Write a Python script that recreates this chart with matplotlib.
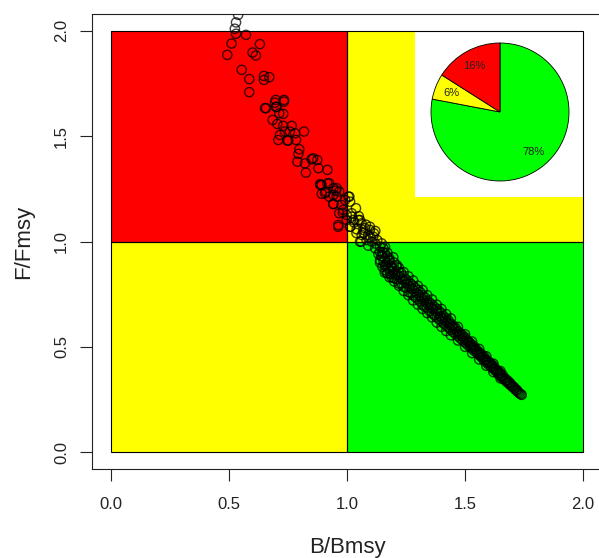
import matplotlib
matplotlib.use("Agg")
import matplotlib.pyplot as plt
from matplotlib.patches import Rectangle

plt.rcParams['font.family'] = ['Liberation Sans', 'DejaVu Sans']

# ---------------- data ----------------
x_ticks = [0.0, 0.5, 1.0, 1.5, 2.0]
y_ticks = [0.0, 0.5, 1.0, 1.5, 2.0]
x_label = "B/Bmsy"
y_label = "F/Fmsy"

# quadrants: (x0, y0, x1, y1, colour)
quadrants = [
    (0.0, 1.0, 1.0, 2.0, "#FF0000"),
    (0.0, 0.0, 1.0, 1.0, "#FFFF00"),
    (1.0, 1.0, 2.0, 2.0, "#FFFF00"),
    (1.0, 0.0, 2.0, 1.0, "#00FF00"),
]

pie_values = [78, 6, 16]
pie_colors = ["#00FF00", "#FFFF00", "#FF0000"]

# scattered upper part
b_upper = [0.539, 0.530, 0.525, 0.530, 0.572, 0.511, 0.631, 0.493, 0.600, 0.614,
           0.554, 0.586, 0.648, 0.671, 0.648, 0.586, 0.698, 0.733, 0.657, 0.702,
           0.653, 0.695, 0.733, 0.699, 0.713, 0.730, 0.685, 0.730, 0.766, 0.737,
           0.716, 0.758, 0.780, 0.818, 0.751, 0.784, 0.798, 0.794, 0.790, 0.822,
           0.850, 0.874, 0.826, 0.879, 0.917, 0.888, 0.917, 0.911, 0.942, 0.925,
           0.956, 0.893, 0.705, 0.709, 0.747, 0.857, 0.886, 0.953, 0.942, 0.967,
           0.963, 0.992, 1.006, 0.984, 0.999, 1.038, 1.020, 1.013, 1.055, 1.069,
           1.097, 1.111, 1.083, 1.140, 1.161]
f_upper = [2.076, 2.040, 2.010, 1.986, 1.981, 1.940, 1.937, 1.886, 1.897, 1.883,
           1.815, 1.771, 1.786, 1.780, 1.767, 1.709, 1.672, 1.672, 1.633, 1.640,
           1.633, 1.659, 1.664, 1.638, 1.609, 1.606, 1.577, 1.549, 1.549, 1.522,
           1.506, 1.522, 1.514, 1.522, 1.479, 1.482, 1.438, 1.416, 1.379, 1.371,
           1.390, 1.387, 1.327, 1.348, 1.340, 1.268, 1.276, 1.237, 1.253, 1.213,
           1.213, 1.226, 1.558, 1.482, 1.479, 1.395, 1.272, 1.241, 1.178, 1.134,
           1.070, 1.197, 1.213, 1.150, 1.102, 1.158, 1.118, 1.070, 1.102, 1.055,
           1.055, 1.023, 1.007, 0.975, 0.975]

# dense cluster around B/Bmsy ~ 1
b_mid = [0.893, 0.925, 0.956, 0.907, 0.942, 0.967, 0.942, 0.977, 1.010, 1.013,
         0.982, 0.999, 0.963, 1.020, 1.027, 1.013, 1.048, 1.062, 1.041, 1.076,
         1.097, 1.062, 1.090, 1.114, 1.055, 1.105, 1.128, 1.147, 1.119, 1.154,
         1.133, 1.171, 1.140, 1.175, 1.196, 1.161, 1.189, 1.211, 1.171, 1.203,
         1.030, 1.050, 1.070, 1.080, 1.100, 1.120, 1.120, 1.090, 1.150, 1.170,
         1.040, 1.060]
f_mid = [1.268, 1.276, 1.253, 1.229, 1.221, 1.237, 1.178, 1.173, 1.213, 1.189,
         1.137, 1.126, 1.078, 1.134, 1.102, 1.070, 1.102, 1.086, 1.058, 1.063,
         1.070, 1.031, 1.031, 1.039, 0.999, 0.999, 1.007, 0.991, 0.968, 0.968,
         0.941, 0.947, 0.912, 0.912, 0.925, 0.884, 0.877, 0.888, 0.849, 0.841,
         1.090, 1.120, 1.040, 1.080, 1.020, 0.990, 1.050, 0.980, 0.950, 0.930,
         1.040, 1.000]

# tight band towards the lower right
b_band = [1.14, 1.14, 1.145, 1.15, 1.15, 1.155, 1.16, 1.16, 1.165, 1.17, 1.17, 1.175,
          1.18, 1.18, 1.185, 1.19, 1.19, 1.195, 1.20, 1.20, 1.205, 1.21, 1.21, 1.215,
          1.22, 1.22, 1.225, 1.23, 1.23, 1.235, 1.24, 1.24, 1.245, 1.25, 1.25, 1.255,
          1.26, 1.26, 1.265, 1.27, 1.27, 1.275, 1.28, 1.28, 1.285, 1.29, 1.29, 1.295,
          1.30, 1.30, 1.305, 1.31, 1.31, 1.315, 1.32, 1.32, 1.325, 1.33, 1.33, 1.335,
          1.34, 1.34, 1.345, 1.35, 1.35, 1.355, 1.36, 1.36, 1.365, 1.37, 1.37, 1.375,
          1.38, 1.38, 1.385, 1.39, 1.39, 1.395, 1.40, 1.40, 1.405, 1.41, 1.41, 1.415,
          1.42, 1.42, 1.425, 1.43, 1.43, 1.435, 1.44, 1.44, 1.445, 1.45, 1.45, 1.455,
          1.46, 1.46, 1.465, 1.47, 1.47, 1.475, 1.48, 1.48, 1.485, 1.49, 1.49, 1.495,
          1.50, 1.50, 1.505, 1.51, 1.51, 1.515, 1.52, 1.52, 1.525, 1.53, 1.53, 1.535,
          1.54, 1.54, 1.545, 1.55, 1.55, 1.555, 1.56, 1.56, 1.565, 1.57, 1.57, 1.575,
          1.58, 1.58, 1.585, 1.59, 1.59, 1.595, 1.60, 1.60, 1.605, 1.61, 1.61, 1.615,
          1.62, 1.62, 1.625, 1.63, 1.63, 1.635, 1.64, 1.64, 1.645, 1.65, 1.65, 1.655,
          1.66, 1.66, 1.665, 1.67, 1.67, 1.675, 1.68, 1.68, 1.685, 1.69, 1.69, 1.695,
          1.70, 1.70, 1.705, 1.71, 1.71, 1.715, 1.72, 1.72, 1.725, 1.73, 1.735, 1.74]
f_band = [0.95, 0.90, 0.93, 0.88, 0.93, 0.905, 0.865, 0.92, 0.89, 0.90, 0.85, 0.875,
          0.91, 0.86, 0.845, 0.88, 0.83, 0.86, 0.87, 0.825, 0.85, 0.88, 0.82, 0.84,
          0.855, 0.80, 0.83, 0.85, 0.80, 0.82, 0.835, 0.785, 0.81, 0.82, 0.78, 0.80,
          0.81, 0.76, 0.785, 0.80, 0.755, 0.775, 0.79, 0.745, 0.765, 0.78, 0.735, 0.755,
          0.77, 0.725, 0.745, 0.76, 0.715, 0.735, 0.745, 0.70, 0.72, 0.735, 0.69, 0.71,
          0.72, 0.685, 0.70, 0.71, 0.67, 0.69, 0.70, 0.66, 0.68, 0.69, 0.65, 0.67,
          0.68, 0.64, 0.66, 0.67, 0.63, 0.645, 0.66, 0.62, 0.635, 0.645, 0.61, 0.625,
          0.635, 0.60, 0.615, 0.625, 0.59, 0.605, 0.61, 0.58, 0.595, 0.60, 0.57, 0.585,
          0.59, 0.56, 0.57, 0.575, 0.55, 0.56, 0.565, 0.54, 0.55, 0.555, 0.53, 0.54,
          0.545, 0.52, 0.53, 0.53, 0.51, 0.52, 0.52, 0.50, 0.505, 0.51, 0.49, 0.495,
          0.50, 0.48, 0.485, 0.485, 0.47, 0.47, 0.475, 0.46, 0.46, 0.465, 0.45, 0.45,
          0.455, 0.435, 0.44, 0.44, 0.425, 0.43, 0.43, 0.415, 0.42, 0.42, 0.405, 0.41,
          0.41, 0.395, 0.395, 0.395, 0.385, 0.385, 0.385, 0.37, 0.375, 0.375, 0.36, 0.36,
          0.365, 0.35, 0.35, 0.35, 0.34, 0.34, 0.34, 0.33, 0.33, 0.33, 0.32, 0.32,
          0.315, 0.31, 0.31, 0.305, 0.30, 0.295, 0.295, 0.29, 0.285, 0.28, 0.275, 0.272]

# points on the outer edges of the band
b_edge = [1.16, 1.16, 1.18, 1.18, 1.20, 1.20, 1.22, 1.22, 1.24, 1.24, 1.26, 1.26,
          1.28, 1.28, 1.30, 1.30, 1.32, 1.32, 1.34, 1.34, 1.36, 1.36, 1.38, 1.38,
          1.40, 1.40, 1.42, 1.42, 1.44, 1.44, 1.47, 1.47, 1.50, 1.50, 1.53, 1.53,
          1.56, 1.56, 1.59, 1.59, 1.62, 1.62, 1.65, 1.65]
f_edge = [0.945, 0.852, 0.92, 0.83, 0.90, 0.81, 0.875, 0.79, 0.855, 0.765, 0.835, 0.745,
          0.815, 0.72, 0.79, 0.70, 0.77, 0.68, 0.745, 0.66, 0.725, 0.64, 0.70, 0.615,
          0.68, 0.595, 0.655, 0.575, 0.635, 0.555, 0.595, 0.53, 0.56, 0.50, 0.525, 0.47,
          0.49, 0.44, 0.455, 0.41, 0.42, 0.38, 0.385, 0.35]

# ---------------- figure ----------------
W, H = 599, 558
fig = plt.figure(figsize=(W / 100, H / 100), dpi=100)
ax = fig.add_axes([92 / W, (H - 469) / H, 510 / W, 455 / H])
ax.set_xlim(-0.08, 2.08)
ax.set_ylim(-0.08, 2.08)

for x0, y0, x1, y1, c in quadrants:
    ax.add_patch(Rectangle((x0, y0), x1 - x0, y1 - y0, facecolor=c,
                           edgecolor="none", zorder=1))
# white background of the inset
ax.add_patch(Rectangle((1.29, 1.21), 0.71, 0.79, facecolor="white",
                       edgecolor="none", zorder=2))
for x0, y0, x1, y1, c in quadrants:
    ax.add_patch(Rectangle((x0, y0), x1 - x0, y1 - y0, facecolor="none",
                           edgecolor="black", linewidth=0.8, zorder=3))

b_all = b_upper + b_mid + b_band + b_edge
f_all = f_upper + f_mid + f_band + f_edge
ax.scatter(b_all, f_all, s=44, facecolors="none",
           edgecolors=(0, 0, 0, 0.75), linewidths=1.0, zorder=4)

ax.set_xticks(x_ticks)
ax.set_yticks(y_ticks)
ax.set_xticklabels([f"{v:.1f}" for v in x_ticks])
ax.set_yticklabels([f"{v:.1f}" for v in y_ticks])
ax.tick_params(axis="both", length=8.5, width=0.8, labelsize=12,
               colors="#222222", labelcolor="#222222")
ax.tick_params(axis="x", pad=12)
ax.tick_params(axis="y", pad=8)
plt.setp(ax.get_yticklabels(), rotation=90, va="center")
for sp in ax.spines.values():
    sp.set_linewidth(0.8)
    sp.set_color("#222222")

fig.text(347 / W, 1 - 547 / H, x_label, ha="center", va="center",
         fontsize=16, color="#222222")
fig.text(24 / W, 1 - 241.5 / H, y_label, ha="center", va="center",
         fontsize=16, rotation=90, color="#222222")

# ---------------- inset pie ----------------
cx, cy, r = 500, 112, 69
pax = fig.add_axes([(cx - r) / W, (H - cy - r) / H, 2 * r / W, 2 * r / H])
pax.pie(pie_values, colors=pie_colors, startangle=90, counterclock=False,
        autopct=lambda p: f"{p:.0f}%", pctdistance=0.76,
        wedgeprops=dict(edgecolor="black", linewidth=0.6),
        textprops=dict(fontsize=8, color="#222222"))
pax.set_xlim(-1.0, 1.0)
pax.set_ylim(-1.0, 1.0)
pax.set_aspect("equal")
pax.axis("off")

fig.savefig("out.png", dpi=100)
